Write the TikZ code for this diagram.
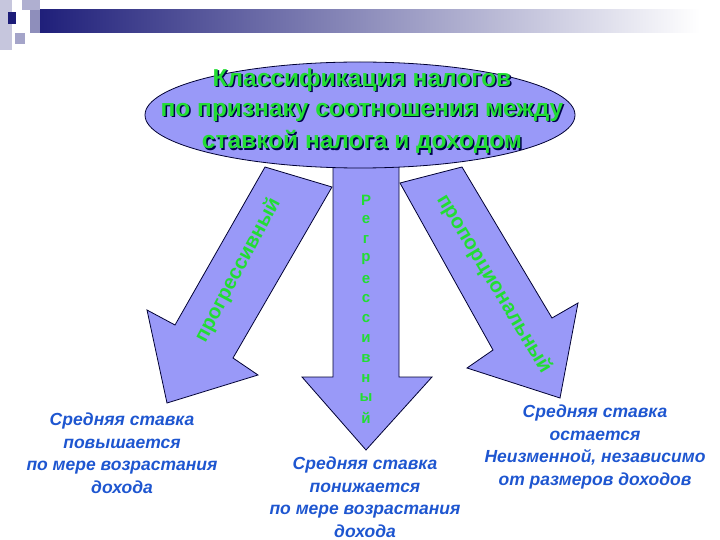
\documentclass[tikz,border=0pt]{standalone}
\usepackage{fontspec}
\setmainfont{Liberation Sans}
\usetikzlibrary{shapes.geometric}
\begin{document}
\begin{tikzpicture}[x=1pt,y=-1pt,
  arr/.style={fill=arrfill,draw=black!80!blue,line width=0.8pt,line join=miter},
  green/.style={text=grn,font=\bfseries\fontsize{20.5}{20}\selectfont,inner sep=0pt},
  desc/.style={text=descblue,font=\bfseries\itshape\fontsize{17.5}{22.5}\selectfont,align=center}]
\definecolor{arrfill}{HTML}{9999F8}
\definecolor{grn}{HTML}{22DD33}
\definecolor{descblue}{HTML}{1E56D0}
\definecolor{navy}{HTML}{1C1C78}
\useasboundingbox (0,0) rectangle (720,540);
% header decoration
\shade[left color=navy,right color=white] (30,10) rectangle (700,33);
\fill[navy!25] (0,0) rectangle (12,50);
\fill[navy!35] (22,0) rectangle (40,10);
\fill[navy!40] (15,33) rectangle (25,44);
\fill[navy!50] (30,10) rectangle (40,33);
\fill[navy] (8,12) rectangle (16,24);
% arrows
\draw[arr] (265,167) -- (332,187) -- (233,358) -- (258,375) -- (167,403) -- (147,310) -- (175,325) -- cycle;
\draw[arr] (400,183) -- (462,167) -- (552,318) -- (578,303) -- (560,398) -- (467,368) -- (493,350) -- cycle;
\draw[arr] (333,165) -- (399,165) -- (399,377) -- (432,377) -- (366,450) -- (302,377) -- (333,377) -- cycle;
% ellipse
\node[draw=black!80!blue,fill=arrfill,line width=0.8pt,ellipse,minimum width=430,minimum height=106] (top) at (360,115) {};
\foreach \l/\t in {80/Классификация налогов,112/по признаку соотношения между,142/ставкой налога и доходом}{
  \node[text=black!70!blue,font=\bfseries\fontsize{24.5}{24}\selectfont] at (363.5,\l+1.5) {\t};
  \node[text=grn,font=\bfseries\fontsize{24.5}{24}\selectfont] (t\l) at (362,\l) {\t};}
% arrow labels
\node[green,rotate=62] (prog) at (238,270) {прогрессивный};
\node[green,rotate=-59] (prop) at (494,284) {пропорциональный};
\foreach \c [count=\i from 0] in {Р,е,г,р,е,с,с,и,в,н,ы,й}
  \node[green,font=\bfseries\fontsize{15}{15}\selectfont] (r\i) at (366,200+\i*19.8) {\c};
% descriptions
\node[desc] (d1) at (122,453) {Средняя ставка\\повышается\\по мере возрастания\\дохода};
\node[desc] (d2) at (365,497) {Средняя ставка\\понижается\\по мере возрастания\\дохода};
\node[desc] (d3) at (595,447) {Средняя ставка\\остается\\Неизменной, независимо\\от размеров доходов};
\end{tikzpicture}
\end{document}
